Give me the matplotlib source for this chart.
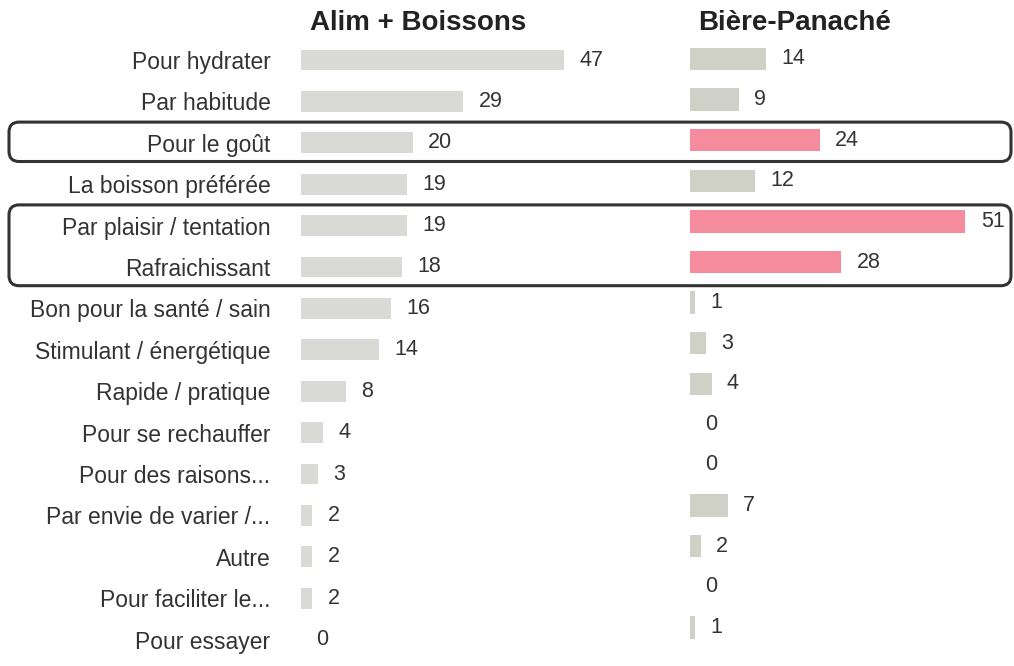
import numpy as np
import matplotlib.pyplot as plt
from matplotlib.patches import FancyBboxPatch
from matplotlib.transforms import IdentityTransform

plt.rcParams['font.family'] = ['Liberation Sans', 'DejaVu Sans']

categories = ['Pour hydrater', 'Par habitude', 'Pour le goût', 'La boisson préférée',
              'Par plaisir / tentation', 'Rafraichissant', 'Bon pour la santé / sain',
              'Stimulant / énergétique', 'Rapide / pratique', 'Pour se rechauffer',
              'Pour des raisons...', 'Par envie de varier /...', 'Autre',
              'Pour faciliter le...', 'Pour essayer']
alim_boissons = [47, 29, 20, 19, 19, 18, 16, 14, 8, 4, 3, 2, 2, 2, 0]
biere_panache = [14, 9, 24, 12, 51, 28, 1, 3, 4, 0, 0, 7, 2, 0, 1]
highlight = ['Pour le goût', 'Par plaisir / tentation', 'Rafraichissant']
boxed_groups = [['Pour le goût'], ['Par plaisir / tentation', 'Rafraichissant']]

W, H = 1014, 666
fig = plt.figure(figsize=(W / 100, H / 100), dpi=100)

def px_axes(left, top, width, height):
    return fig.add_axes([left / W, (H - top - height) / H, width / W, height / H])

n = len(categories)
y = np.arange(n)

# left panel
ax1 = px_axes(301, 39.3, 336, 621)
ax1.barh(y, alim_boissons, height=0.5, color='#d9d9d6')
ax1.set_xlim(0, 60)
ax1.set_ylim(n - 0.5, -0.5)
ax1.set_yticks(y)
ax1.set_yticklabels(categories, fontsize=16.5, color='#333333')
ax1.tick_params(axis='y', length=0, pad=22)
ax1.bar_label(ax1.containers[0], padding=11, fontsize=15.5, color='#333333')

# right panel
ax2 = px_axes(690, 38.7, 324, 609)
cols = ['#f48c9e' if c in highlight else '#cfd0c6' for c in categories]
ax2.barh(y, biere_panache, height=0.55, color=cols)
ax2.set_xlim(0, 60)
ax2.set_ylim(n - 0.5, -0.5)
ax2.set_yticks([])
ax2.bar_label(ax2.containers[0], padding=11, fontsize=15.5, color='#333333')

for ax in (ax1, ax2):
    ax.set_xticks([])
    for s in ax.spines.values():
        s.set_visible(False)
    ax.patch.set_alpha(0)

fig.text(418 / W, 1 - 23 / H, 'Alim + Boissons', ha='center', va='center',
         fontsize=20, fontweight='bold', color='#222222')
fig.text(795 / W, 1 - 23 / H, 'Bière-Panaché', ha='center', va='center',
         fontsize=20, fontweight='bold', color='#222222')

# rounded boxes around highlighted rows (pixel coords)
for grp in boxed_groups:
    idx = [categories.index(c) for c in grp]
    y_top = ax1.transData.transform((0, min(idx) - 0.5))[1]
    y_bot = ax1.transData.transform((0, max(idx) + 0.5))[1]
    x0, x1 = 9, W - 3
    box = FancyBboxPatch((x0, y_bot + 2), x1 - x0, y_top - y_bot - 2,
                         boxstyle='round,pad=0,rounding_size=10',
                         transform=IdentityTransform(), fill=False,
                         edgecolor='#333333', linewidth=2.2)
    fig.patches.append(box)

fig.savefig('out.png', dpi=100)
